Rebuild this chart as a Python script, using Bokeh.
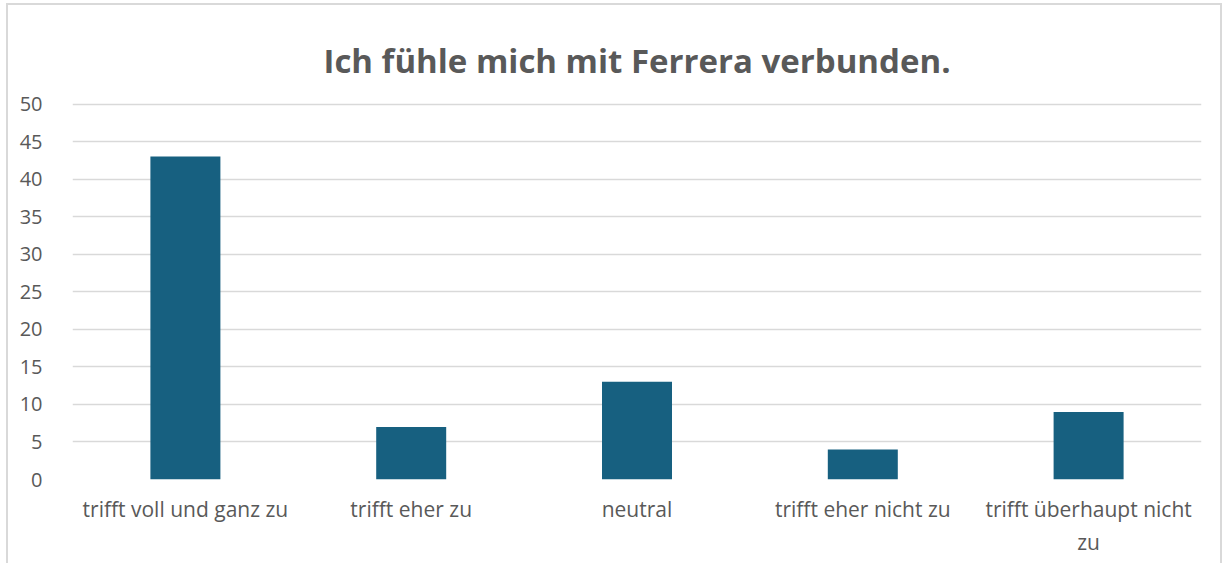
from bokeh.plotting import figure
from bokeh.models import Range1d, FixedTicker
from bokeh.embed import file_html
from bokeh.resources import INLINE

categories = ["trifft voll und ganz zu", "trifft eher zu", "neutral",
              "trifft eher nicht zu", "trifft überhaupt nicht\nzu"]
values = [43, 7, 13, 4, 9]
y_ticks = [0, 5, 10, 15, 20, 25, 30, 35, 40, 45, 50]
title_text = "Ich fühle mich mit Ferrera verbunden."

p = figure(x_range=categories, y_range=Range1d(0, 50.2), width=1216, height=560,
           output_backend="svg", toolbar_location=None, title=title_text)

p.vbar(x=categories, top=values, width=0.31, color="#176080", line_color=None)

p.title.align = "center"
p.title.text_font = "Open Sans"
p.title.text_font_style = "bold"
p.title.text_font_size = "33px"
p.title.text_color = "#595959"
p.title.offset = -15
p.title.standoff = 40

p.min_border_left = 64
p.min_border_right = 23
p.min_border_top = 97
p.min_border_bottom = 86

p.outline_line_color = None
p.border_fill_color = "white"
p.background_fill_color = "white"

p.xgrid.grid_line_color = None
p.ygrid.grid_line_color = "#D9D9D9"
p.ygrid.grid_line_width = 1.5
p.yaxis.ticker = FixedTicker(ticks=y_ticks)

for ax in (p.xaxis[0], p.yaxis[0]):
    ax.axis_line_color = None
    ax.major_tick_line_color = None
    ax.minor_tick_line_color = None
    ax.major_label_text_font = "Open Sans"
    ax.major_label_text_color = "#595959"

p.yaxis.major_label_text_font_size = "20px"
p.xaxis.major_label_text_font_size = "21px"
p.yaxis.major_label_standoff = 24
p.xaxis.major_label_standoff = 9

p.styles = {
    "border-left": "2px solid #D9D9D9",
    "border-top": "2px solid #D9D9D9",
    "border-right": "2px solid #D9D9D9",
    "margin-left": "6px",
    "margin-top": "3px",
}

open("out.html", "w").write(file_html(p, INLINE))
